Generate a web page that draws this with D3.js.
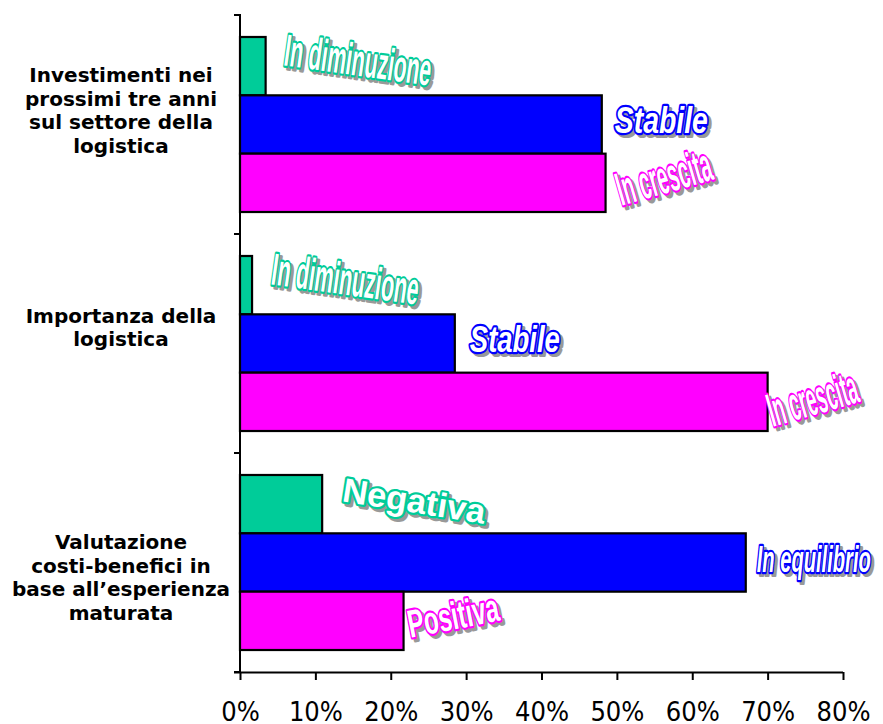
<!DOCTYPE html>
<html>
<head>
<meta charset="utf-8">
<script src="https://cdn.jsdelivr.net/npm/d3@7"></script>
<style>
  body { margin: 0; background: #ffffff; }
  svg { display: block; }
</style>
</head>
<body>
<svg id="chart" width="883" height="724"></svg>
<script>
// ---- data ----
const categories = [
  "Investimenti nei prossimi tre anni sul settore della logistica",
  "Importanza della logistica",
  "Valutazione costi-benefici in base all’esperienza maturata"
];
const categoryLines = [
  ["Investimenti nei", "prossimi tre anni", "sul settore della", "logistica"],
  ["Importanza della", "logistica"],
  ["Valutazione", "costi-benefici in", "base all’esperienza", "maturata"]
];
const seriesKeys = ["calo", "stabile", "crescita"];
const greenValues   = [0.034, 0.016, 0.109];
const blueValues    = [0.480, 0.285, 0.671];
const magentaValues = [0.485, 0.700, 0.217];
const greenLabels   = ["In diminuzione", "In diminuzione", "Negativa"];
const blueLabels    = ["Stabile", "Stabile", "In equilibrio"];
const magentaLabels = ["In crescita", "In crescita", "Positiva"];
const xTicks      = [0, 0.1, 0.2, 0.3, 0.4, 0.5, 0.6, 0.7, 0.8];
const xTickLabels = ["0%", "10%", "20%", "30%", "40%", "50%", "60%", "70%", "80%"];

// ---- look of the word-art style labels ----
const labelLook = {
  calo: [
    { rot: 8,  fs: 45, len: 148, dx: 17, dy: -1 },
    { rot: 8,  fs: 45, len: 148, dx: 18, dy: -1 },
    { rot: 9,  fs: 34, len: 144, dx: 19, dy: -3, wide: true }
  ],
  stabile: [
    { italic: true, fs: 36, len: 93,  dx: 13, dy: 8 },
    { italic: true, fs: 36, len: 90,  dx: 15, dy: 8 },
    { italic: true, fs: 37, len: 114, dx: 11, dy: 9 }
  ],
  crescita: [
    { rot: -16, fs: 47, len: 97, dx: 16, dy: 23 },
    { rot: -16, fs: 47, len: 92, dx: 5,  dy: 25 },
    { rot: -11, fs: 39, len: 92, dx: 7,  dy: 17 }
  ]
};

const series = [
  { key: "calo",     color: "#00CC99", values: greenValues,   labels: greenLabels },
  { key: "stabile",  color: "#0000FF", values: blueValues,    labels: blueLabels },
  { key: "crescita", color: "#FF00FF", values: magentaValues, labels: magentaLabels }
];

// ---- scales ----
const svg = d3.select("#chart");
const x = d3.scaleLinear().domain([0, 0.8]).range([240, 843]);
const y0 = d3.scaleBand().domain(categories).range([15, 672]);
const y1 = d3.scaleBand().domain(seriesKeys).range([0, y0.bandwidth()]).paddingOuter(0.377);

// ---- bars ----
const groups = svg.append("g").selectAll("g")
  .data(categories)
  .join("g")
  .attr("transform", c => `translate(0,${y0(c)})`);

groups.selectAll("rect")
  .data((c, i) => series.map(s => ({ key: s.key, color: s.color, value: s.values[i] })))
  .join("rect")
  .attr("x", x(0))
  .attr("y", d => y1(d.key))
  .attr("width", d => x(d.value) - x(0))
  .attr("height", y1.bandwidth())
  .attr("fill", d => d.color)
  .attr("stroke", "#000")
  .attr("stroke-width", 2.2);

// ---- word-art labels at the bar ends ----
const labelData = [];
categories.forEach((c, i) => {
  series.forEach(s => {
    const look = labelLook[s.key][i];
    labelData.push({
      text: s.labels[i],
      color: s.color,
      look,
      x: x(s.values[i]) + look.dx,
      y: y0(c) + y1(s.key) + y1.bandwidth() / 2 + look.dy
    });
  });
});

function placeLabel(sel, off) {
  sel.attr("transform", d => `translate(${d.x + off},${d.y + off}) rotate(${d.look.rot || 0})`)
    .attr("font-family", d => d.look.wide
      ? "'Liberation Sans', Arial, sans-serif"
      : "'Liberation Sans Narrow', 'Arial Narrow', 'Liberation Sans', sans-serif")
    .attr("font-weight", "bold")
    .attr("font-style", d => d.look.italic ? "italic" : "normal")
    .attr("font-size", d => d.look.fs)
    .attr("textLength", d => d.look.len)
    .attr("lengthAdjust", "spacingAndGlyphs")
    .attr("paint-order", "stroke")
    .attr("stroke-linejoin", "round")
    .text(d => d.text);
}

const labels = svg.append("g");
labels.selectAll("text.shadow")
  .data(labelData)
  .join("text")
  .attr("class", "shadow")
  .call(placeLabel, 3)
  .attr("fill", "#999999")
  .attr("stroke", "#999999")
  .attr("stroke-width", 4.2);

labels.selectAll("text.word")
  .data(labelData)
  .join("text")
  .attr("class", "word")
  .call(placeLabel, 0)
  .attr("fill", "#ffffff")
  .attr("stroke", d => d.color)
  .attr("stroke-width", 4.4);

// ---- axes ----
const xAxis = svg.append("g")
  .attr("transform", `translate(0,${y0.range()[1]})`)
  .call(d3.axisBottom(x).tickValues(xTicks).tickFormat((d, i) => xTickLabels[i]).tickSize(8).tickSizeOuter(0));
xAxis.select(".domain").attr("stroke", "#000").attr("stroke-width", 2).attr("d", `M234,0.5H${x(0.8)}`);
xAxis.selectAll(".tick line").attr("stroke", "#000").attr("stroke-width", 2);
xAxis.selectAll(".tick text")
  .attr("y", 49).attr("dy", 0)
  .attr("fill", "#000")
  .attr("font-family", "'DejaVu Sans', Verdana, sans-serif")
  .attr("font-stretch", "condensed")
  .attr("font-size", 27);

const yAxis = svg.append("g");
yAxis.append("line")
  .attr("x1", x(0)).attr("x2", x(0))
  .attr("y1", y0.range()[0] - 1).attr("y2", y0.range()[1])
  .attr("stroke", "#000").attr("stroke-width", 2);
const bounds = categories.map(c => y0(c)).concat([y0.range()[1]]);
yAxis.selectAll("line.tick")
  .data(bounds)
  .join("line")
  .attr("class", "tick")
  .attr("x1", x(0) - 6).attr("x2", x(0))
  .attr("y1", d => d).attr("y2", d => d)
  .attr("stroke", "#000").attr("stroke-width", 2);

// ---- category labels ----
const labelShift = [-13, -15, 16];
const lineStep = 23.5;
const catLabels = svg.append("g")
  .attr("font-family", "'DejaVu Sans', Verdana, sans-serif")
  .attr("font-weight", "bold")
  .attr("font-size", 20)
  .attr("text-anchor", "middle")
  .attr("fill", "#000");
categories.forEach((c, i) => {
  const lines = categoryLines[i];
  const mid = y0(c) + y0.bandwidth() / 2 + labelShift[i];
  catLabels.selectAll(null)
    .data(lines)
    .join("text")
    .attr("x", 121)
    .attr("y", (d, j) => mid + (j - (lines.length - 1) / 2) * lineStep + 6)
    .text(d => d);
});
</script>
</body>
</html>
